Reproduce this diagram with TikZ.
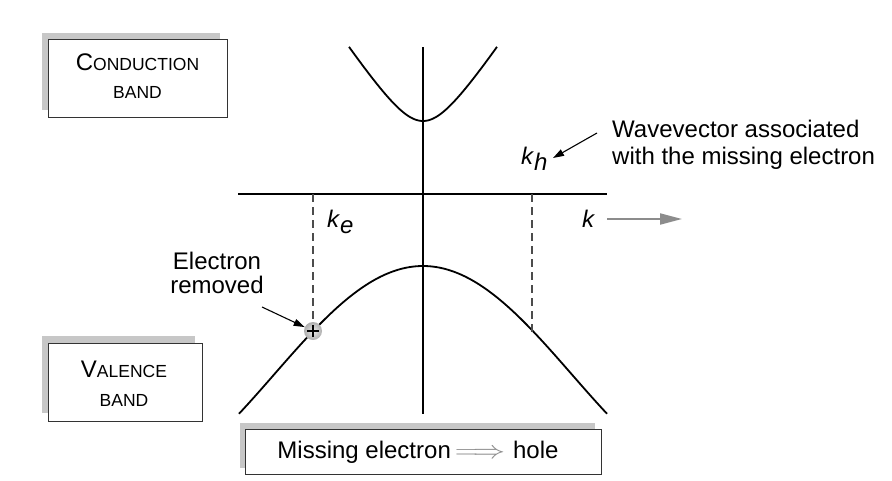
\documentclass[tikz,border=0pt]{standalone}
\usepackage{fontspec}
\usepackage{graphicx}
\setmainfont{Liberation Sans}
\usetikzlibrary{arrows.meta,shadings}
\newcommand{\scpair}[2]{{\fontsize{24}{28}\selectfont #1}{\fontsize{17.5}{21}\selectfont #2}}
\newcommand{\kvar}[1]{\textit{k}\raisebox{-0.28em}{\textit{#1}}}
\begin{document}
\begin{tikzpicture}[x=1pt,y=-1pt,
  shadowbox/.style={fill=black!22, draw=none, inner sep=0pt},
  frontbox/.style={fill=white, draw=black!80, line width=1.2pt, inner sep=0pt},
  axisline/.style={line width=1.8pt},
  band/.style={line width=1.8pt},
  guide/.style={dash pattern=on 8pt off 5pt, line width=1.2pt, draw=black!70},
  pointer/.style={-{Triangle[length=11pt,width=7pt]}, line width=1.1pt},
  kaxis/.style={-{Triangle[length=22pt,width=11pt]}, line width=2pt, draw=black!45, fill=black!45},
  lab/.style={font=\fontsize{24}{28}\selectfont, inner sep=0pt},
  klab/.style={font=\fontsize{24}{28}\selectfont, inner sep=0pt}
]
\useasboundingbox (0,0) rectangle (892,480);

% Conduction band box
\node[shadowbox, minimum width=178pt, minimum height=77pt, anchor=north west] (cbs) at (42,33) {};
\node[frontbox, minimum width=179pt, minimum height=78pt, anchor=north west] (cb) at (48,39) {};
\node[lab, anchor=base] (cbt1) at (137.5,70) {\scpair{C}{ONDUCTION}};
\node[lab, anchor=base] (cbt2) at (137.5,98) {\scpair{}{BAND}};

% Valence band box
\node[shadowbox, minimum width=153pt, minimum height=77pt, anchor=north west] (vbs) at (42,336) {};
\node[frontbox, minimum width=154pt, minimum height=78pt, anchor=north west] (vb) at (48,343) {};
\node[lab, anchor=base] (vbt1) at (124,377) {\scpair{V}{ALENCE}};
\node[lab, anchor=base] (vbt2) at (124,406) {\scpair{}{BAND}};

% Missing electron box
\node[shadowbox, minimum width=355pt, minimum height=45pt, anchor=north west] (mbs) at (240,423) {};
\node[frontbox, minimum width=356pt, minimum height=45pt, anchor=north west] (mb) at (245,429) {};
\node[lab, anchor=base] (mbt) at (418,458) {Missing electron\,{\color{black!45}\scalebox{1.3}[1]{$\Longrightarrow$}}\,\,hole};

% Axes
\coordinate (vtop) at (423,47);
\coordinate (vbot) at (423,414);
\coordinate (hleft) at (238,194);
\coordinate (hright) at (607,194);
\draw[axisline] (vtop) -- (vbot);
\draw[axisline] (hleft) -- (hright);

% Conduction band
\draw[band] plot[domain=-74:74, samples=80] ({423+\x},{121-(sqrt(2116+2.25*\x*\x)-46)});

% Valence band
\draw[band] plot[domain=-184:184, samples=120] ({423+\x},{266+108.5*(1-cos(0.6044*\x))});

% Hole and dashed guides
\node[circle, minimum size=18pt, inner sep=0pt, inner color=black!8, outer color=black!32] (hole) at (313,331) {};
\draw[line width=1.6pt] ([xshift=-6pt]hole.center) -- ([xshift=6pt]hole.center);
\draw[line width=1.6pt] ([yshift=-6pt]hole.center) -- ([yshift=6pt]hole.center);
\coordinate (ketop) at (313,194);
\coordinate (khtop) at (532,194);
\coordinate (khbot) at (532,333);
\draw[guide] (ketop) -- (hole.north);
\draw[guide] (khtop) -- (khbot);

% Labels
\node[klab, anchor=base west] (ke) at (327,227) {\kvar{e}};
\node[klab, anchor=base west] (kh) at (521,164) {\kvar{h}};
\node[klab, anchor=base west] (k) at (582,227) {\textit{k}};
\coordinate (kastart) at (607,219);
\coordinate (karrowend) at (682,219);
\draw[kaxis] (kastart) -- (karrowend);

% Electron removed
\node[lab, anchor=base] (er1) at (217,269) {Electron};
\node[lab, anchor=base] (er2) at (217,293) {removed};
\coordinate (erstart) at (262,307);
\draw[pointer] (erstart) -- (hole);

% Wavevector
\node[lab, anchor=base west] (wv1) at (612,137) {Wavevector associated};
\node[lab, anchor=base west] (wv2) at (612,164) {with the missing electron};
\coordinate (wvstart) at (597,133);
\coordinate (wvtip) at (553,158);
\draw[pointer] (wvstart) -- (wvtip);
\end{tikzpicture}
\end{document}
